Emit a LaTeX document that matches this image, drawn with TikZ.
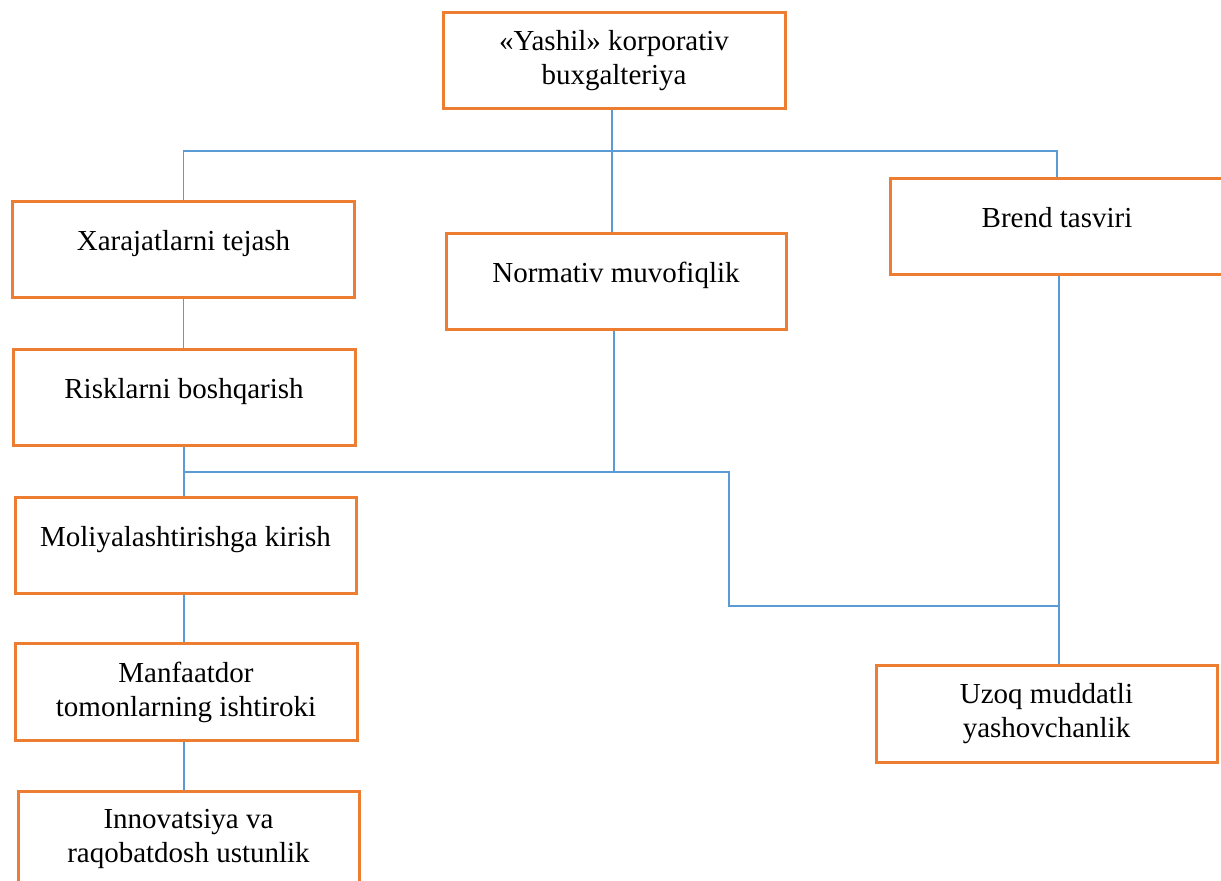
\documentclass[tikz,border=0pt]{standalone}
\usepackage{fontspec}
\setmainfont{Liberation Serif}
\definecolor{boxorange}{RGB}{237,125,49}
\definecolor{lineblue}{RGB}{91,155,213}

\begin{document}
\begin{tikzpicture}[x=0.5pt, y=-0.5pt]
	\tikzset {box/.style={draw=boxorange, line width=1.5pt, minimum width=171pt, minimum height=48pt, inner sep=0pt, align=center, font=\fontsize{14.5}{17}\selectfont},
		single/.style={text height=10pt, text depth=9pt},
		link/.style={draw=lineblue, line width=0.6pt} }
	\useasboundingbox (0,0) rectangle (1221,881);

	\node[box] (top) at (614,61) {«Yashil» korporativ\\buxgalteriya};
	\node[box, single] (xar) at (183.5,250) {Xarajatlarni tejash};
	\node[box, single, minimum width=170pt] (norm) at (616,282) {Normativ muvofiqlik};
	\node[box, single, minimum width=167pt] (brend) at (1057,226.5) {Brend tasviri};
	\node[box, single] (risk) at (184,397.5) {Risklarni boshqarish};
	\node[box, single, minimum width=170.5pt] (moli) at (185.5,546) {Moliyalashtirishga kirish};
	\node[box] (manf) at (186,692) {Manfaatdor\\tomonlarning ishtiroki};
	\node[box, minimum width=170.5pt] (innov) at (188.5,839) {Innovatsiya va\\raqobatdosh ustunlik};
	\node[box, minimum width=170.5pt] (uzoq) at (1046.5,714) {Uzoq muddatli\\yashovchanlik};

	\coordinate (b1) at (612,151);
	\coordinate (b2) at (614,472);
	\coordinate (b3) at (729,606);
	\coordinate (b4) at (1059,606);

	\draw[link] (top.south -| b1) -- (norm.north -| b1);
	\draw[link] (xar.north) |- (b1) -| (brend.north);
	\draw[link] (xar.south) -- (xar.south |- risk.north);
	\draw[link] (norm.south -| b2) -- (b2);
	\draw[link] (risk.south) -- (risk.south |- moli.north);
	\draw[link] (risk.south |- b2) -| (b3) -- (b4);
	\draw[link] (brend.south -| b4) -- (uzoq.north -| b4);
	\draw[link] (risk.south |- moli.south) -- (risk.south |- manf.north);
	\draw[link] (risk.south |- manf.south) -- (risk.south |- innov.north);
\end{tikzpicture}
\end{document}
